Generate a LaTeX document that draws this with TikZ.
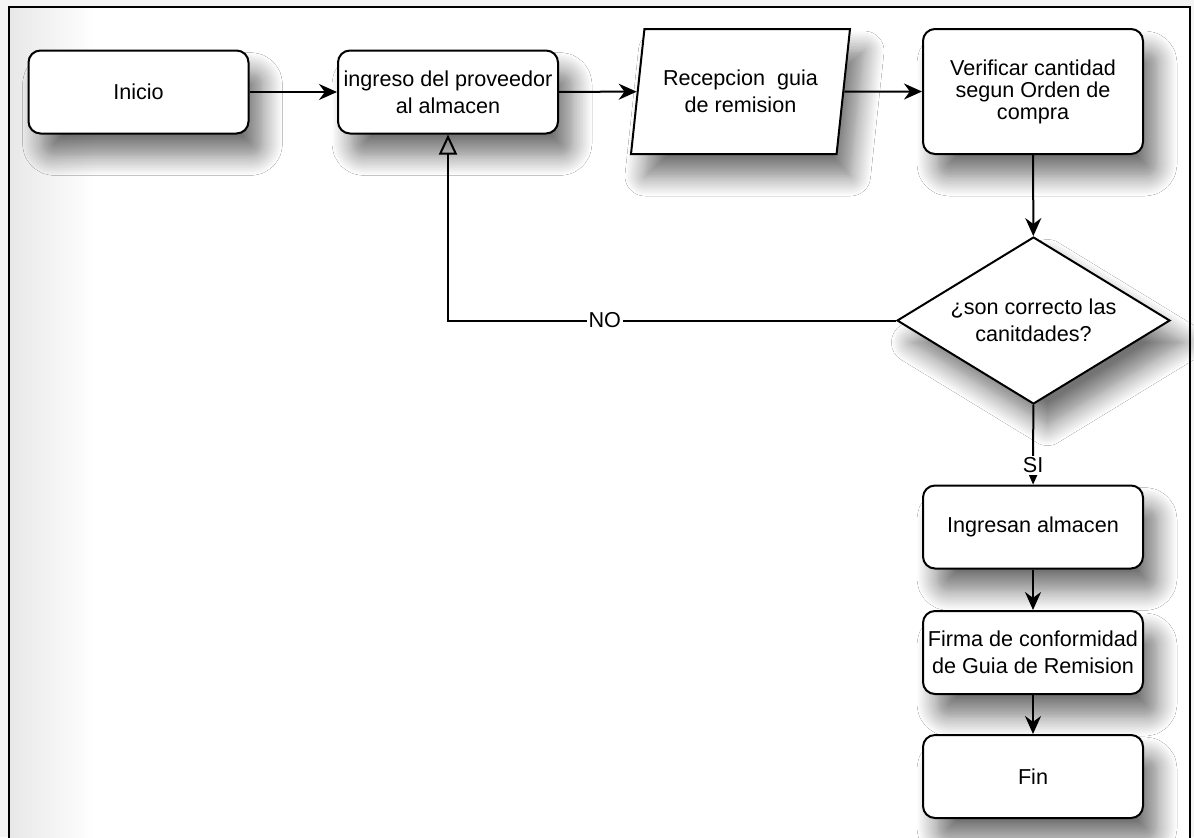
\documentclass[tikz,border=0pt]{standalone}
\usepackage{fontspec}
\setmainfont{Liberation Sans}
\usetikzlibrary{positioning, arrows.meta, shapes.geometric, shadows.blur}

\definecolor{fondo}{HTML}{F4F4F4}

\begin{document}
\begin{tikzpicture}[
                x=0.5pt, y=-0.5pt,
                >={Stealth[length=9pt, width=8pt]},
                line width=1pt,
                font=\fontsize{10.8}{13.5}\selectfont,
                sombra/.style={blur shadow={shadow xshift=7pt, shadow yshift=-11pt, shadow blur radius=10pt, shadow blur steps=14, shadow opacity=55}},
                proceso/.style={draw, rounded corners=6pt, fill=white, minimum width=110pt, minimum height=41.5pt, inner sep=1pt, align=center, sombra},
                datos/.style={draw, trapezium, trapezium left angle=74, trapezium right angle=106, trapezium stretches body, fill=white, minimum width=109.5pt, minimum height=62.5pt, inner sep=1pt, align=center, sombra},
                pregunta/.style={draw, diamond, aspect=1.63, fill=white, minimum width=136.5pt, minimum height=83.5pt, inner sep=0pt, align=center, sombra},
                etiqueta/.style={fill=white, inner sep=1pt},
            ]

                % Page background and frame
                \useasboundingbox (0,0) rectangle (1194,837);
                \fill[fondo] (0,0) rectangle (1194,837);
                \fill[white] (9,7) rectangle (1190,845);
                \shade[left color=black!9, right color=white] (10,8) rectangle (95,845);
                \draw (9,845) -- (9,7) -- (1190,7) -- (1190,845);

                % Draw the top row
                \node[proceso] (inicio) at (138.5,92) {Inicio};
                \node[proceso] (ingreso) at (448,92) {ingreso del proveedor\\al almacen};
                \node[datos] (recepcion) at (740.5,91.5) {Recepcion~~guia\\de remision};
                \node[proceso, minimum height=62.5pt, font=\fontsize{10.8}{11}\selectfont] (verificar) at (1033,91.5) {Verificar cantidad\\segun Orden de\\compra};

                % Draw the decision and the right column
                \node[pregunta] (decision) at (1033.5,320.5) {¿son correcto las\\canitdades?};
                \node[proceso] (almacen) at (1033,527) {Ingresan almacen};
                \node[proceso] (firma) at (1033,652.5) {Firma de conformidad\\de Guia de Remision};
                \node[proceso] (fin) at (1033,776.5) {Fin};

                % Connect the steps in order
                \foreach \source / \dest in {inicio/ingreso, ingreso/recepcion, recepcion/verificar, verificar/decision, almacen/firma, firma/fin}
                    \draw[->] (\source) -- (\dest);

                % Answers of the decision
                \draw[->] (decision) -- node[etiqueta, pos=0.76] {SI} (almacen);
                \draw[-{Triangle[open, length=10pt, width=9pt]}] (decision.west) -- node[etiqueta, pos=0.65] {NO} (decision.west -| ingreso.south) -- (ingreso.south);
            \end{tikzpicture}
\end{document}
